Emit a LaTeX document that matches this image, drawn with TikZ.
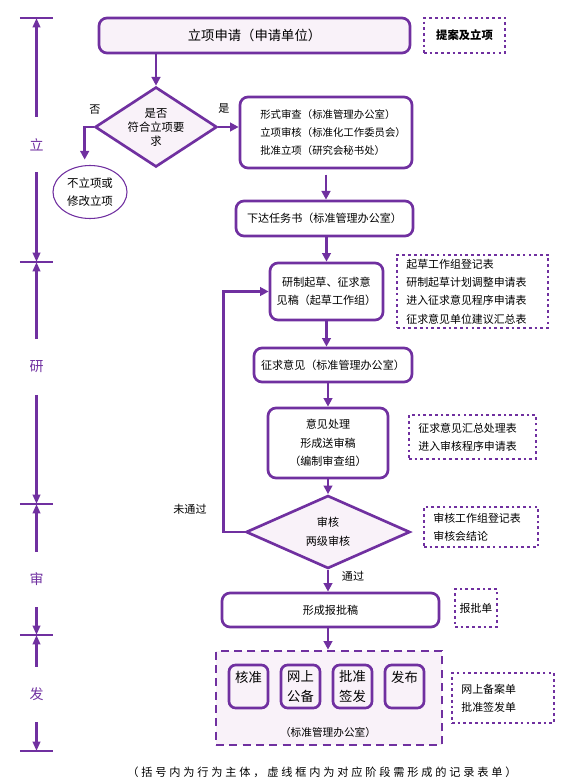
\documentclass[tikz,border=0pt]{standalone}
\usepackage{fontspec}
\setmainfont{Noto Sans CJK SC}
\newfontfamily\notefont[LetterSpace=25]{Noto Sans CJK SC}
\usetikzlibrary{arrows.meta,positioning,shapes.geometric}
\definecolor{pur}{RGB}{112,48,160}
\definecolor{lav}{RGB}{249,242,249}

\begin{document}
\begin{tikzpicture}[x=0.75pt,y=-0.75pt,
	box/.style={rectangle,draw=pur,line width=2pt,rounded corners=6pt,align=center,inner sep=0pt,font=\fontsize{8.3}{13.5}\selectfont},
	inbox/.style={rectangle,draw=pur,fill=lav,line width=2pt,rounded corners=5pt,align=center,inner sep=0pt,minimum width=29.25pt,minimum height=32.25pt,font=\fontsize{10}{15}\selectfont},
	dec/.style={diamond,draw=pur,fill=lav,line width=2pt,inner sep=0pt},
	rec/.style={rectangle,draw=pur,line width=2pt,dash pattern=on 2pt off 2.3pt,align=left,inner ysep=0pt,inner xsep=7pt,font=\fontsize{8.2}{13.7}\selectfont},
	arr/.style={draw=pur,line width=2pt,-{Triangle[length=6.5pt,width=6.5pt]}},
	tl/.style={draw=pur,line width=2pt,-{Triangle[length=7pt,width=5.5pt]}},
	stage/.style={text=pur,inner sep=0pt,minimum height=41.25pt,font=\fontsize{10.5}{12}\selectfont},
	lbl/.style={inner sep=0pt,align=center,font=\fontsize{8.3}{10}\selectfont}]
	\useasboundingbox (0,0) rectangle (560,784);

	% stage time line
	\coordinate (t0) at (36.5,18);
	\coordinate (t1) at (36.5,262);
	\coordinate (t2) at (36.5,504);
	\coordinate (t3) at (36.5,635);
	\coordinate (t4) at (36.5,751);
	\foreach \t in {t0,t1,t2,t3,t4}
		\draw [pur,line width=2pt] ([xshift=-12.5pt]\t) -- ([xshift=12.5pt]\t);
	\node (st1) [stage] at (36.5,144.5) {立};
	\node (st2) [stage] at (36.5,367) {研};
	\node (st3) [stage] at (36.5,579.5) {审};
	\node (st4) [stage] at (36.5,694.5) {发};
	\draw [tl] (st1.north) -- (t0);
	\draw [tl] (st1.south) -- (t1);
	\draw [tl] (st2.north) -- (t1);
	\draw [tl] (st2.south) -- (t2);
	\draw [tl] (st3.north) -- (t2);
	\draw [tl] (st3.south) -- (t3);
	\draw [tl] (st4.north) -- (t3);
	\draw [tl] (st4.south) -- (t4);

	% main flow
	\node (app) [box,fill=lav,minimum width=233.25pt,minimum height=26.25pt,font=\fontsize{10}{12}\selectfont] at (254.5,35.5) {立项申请（申请单位）};
	\node (chk1) [dec,minimum width=91.5pt,minimum height=60pt] at (156,127) {};
	\node (chk1t) [lbl,font=\fontsize{8.5}{10.5}\selectfont] at (chk1) {是否\\符合立项要\\求};
	\node (nop) [ellipse,draw=pur,line width=0.8pt,inner sep=0pt,align=center,minimum width=55.5pt,minimum height=39.75pt,font=\fontsize{8.6}{13.5}\selectfont] at (90,192) {不立项或\\修改立项};
	\node (form) [box,minimum width=129pt,minimum height=53.25pt] at (326,132.5) {};
	\node (formt) [lbl,anchor=west,align=left,font=\fontsize{7.8}{13.5}\selectfont] at ([xshift=16pt]form.west) {形式审查（标准管理办公室）\\立项审核（标准化工作委员会）\\批准立项（研究会秘书处）};
	\node (task) [box,minimum width=132.75pt,minimum height=26.25pt] at (324.5,218.5) {下达任务书（标准管理办公室）};
	\node (draft) [box,minimum width=84.75pt,minimum height=42.75pt] at (326.5,291.5) {研制起草、征求意\\见稿（起草工作组）};
	\node (ask) [box,minimum width=118.5pt,minimum height=25.5pt] at (333,365) {征求意见（标准管理办公室）};
	\node (deal) [box,minimum width=90pt,minimum height=52.5pt,font=\fontsize{8.3}{13.9}\selectfont] at (328,443) {意见处理\\形成送审稿\\（编制审查组）};
	\node (chk2) [dec,minimum width=123pt,minimum height=54.75pt] at (328,532) {};
	\node (chk2t) [lbl,font=\fontsize{8.3}{14.25}\selectfont] at (chk2) {审核\\两级审核};
	\node (rpt) [box,minimum width=162.75pt,minimum height=25.5pt] at (330.5,610) {形成报批稿};
	\node (grp) [rectangle,draw=pur,fill=lav,line width=2pt,dash pattern=on 6pt off 4pt,minimum width=169.5pt,minimum height=70.5pt] at (329,698) {};
	\node (g1) [inbox] at (248.5,686.5) {核准\\\mbox{}};
	\node (g2) [inbox] at (300.5,686.5) {网上\\公备};
	\node (g3) [inbox] at (352.5,686.5) {批准\\签发};
	\node (g4) [inbox] at (404.5,686.5) {发布\\\mbox{}};
	\node (gl) [lbl,font=\fontsize{8}{10}\selectfont] at (328,732) {（标准管理办公室）};

	% branch labels
	\node (no) [lbl] at (95,110) {否};
	\node (yes) [lbl] at (224,109) {是};
	\node (fail) [lbl] at (190,509) {未通过};
	\node (pass) [lbl] at (353,576) {通过};

	% connectors
	\draw [arr] (app.south -| chk1.north) -- (chk1.north);
	\draw [arr,shorten >=4pt] (chk1.west) -- ++(-9,0) coordinate (c1) -- (c1 |- nop.north);
	\draw [arr] (chk1.east) -- (chk1.east -| form.west);
	\draw [arr,shorten <=4pt] (form.south) -- (form.south |- task.north);
	\draw [arr] (draft.north |- task.south) -- (draft.north);
	\draw [arr] (draft.south) -- (draft.south |- ask.north);
	\draw [arr] (deal.north |- ask.south) -- (deal.north);
	\draw [arr] (deal.south) -- (chk2.north);
	\draw [arr] (chk2.west) -- ++(-21,0) coordinate (c2) -- (c2 |- draft.west) -- (draft.west);
	\draw [arr] (chk2.south) -- (chk2.south |- rpt.north);
	\draw [arr] (chk2.south |- rpt.south) -- (chk2.south |- grp.north);

	% record forms
	\node (rec1) [rec,inner xsep=0pt,align=center,minimum width=60.75pt,minimum height=26.25pt,font=\bfseries\fontsize{8.5}{10}\selectfont] at (464.5,35.5) {提案及立项};
	\node (rec2) [rec,text width=99.25pt,minimum height=54.75pt] at (472.5,291.5) {起草工作组登记表\\研制起草计划调整申请表\\进入征求意见程序申请表\\征求意见单位建议汇总表};
	\node (rec3) [rec,text width=81.25pt,minimum height=33pt] at (472.5,437) {征求意见汇总处理表\\进入审核程序申请表};
	\node (rec4) [rec,text width=71.5pt,minimum height=30pt] at (481,527) {审核工作组登记表\\审核会结论};
	\node (rec5) [rec,inner xsep=0pt,align=center,minimum width=31.5pt,minimum height=28.5pt] at (476,608) {报批单};
	\node (rec6) [rec,text width=62.5pt,minimum height=37.5pt] at (503,698) {网上备案单\\批准签发单};

	\node (note) [inner sep=0pt,font=\notefont\fontsize{8.4}{10}\selectfont] at (322,772) {（括号内为行为主体，虚线框内为对应阶段需形成的记录表单）};
\end{tikzpicture}
\end{document}
